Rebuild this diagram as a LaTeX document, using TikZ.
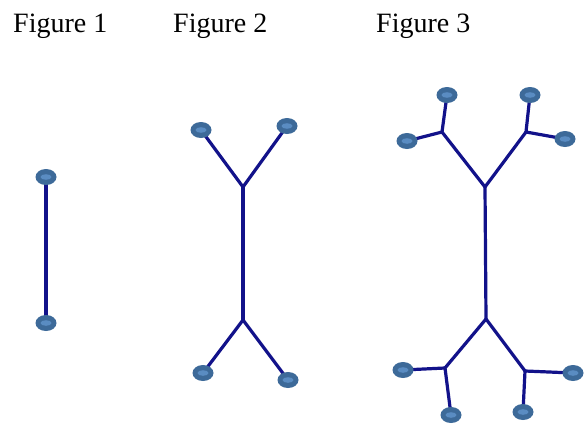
\documentclass[tikz,border=0pt]{standalone}
\usepackage{fontspec}
\setmainfont{Liberation Serif}
\usetikzlibrary{shapes.geometric,backgrounds}
\begin{document}
\begin{tikzpicture}[x=1pt,y=-1pt,
  edge/.style={draw=lineblue,line width=3.2pt,line cap=round,line join=round},
  leaf/.style={ellipse,fill=nodeblue,minimum width=21pt,minimum height=16pt,inner sep=0pt,
    path picture={\fill[nodelight] (path picture bounding box.center) ellipse (5.5pt and 2.8pt);}},
  junc/.style={coordinate},
  title/.style={anchor=base west,font=\fontsize{28}{32}\selectfont,inner sep=0pt}]
\definecolor{lineblue}{HTML}{12128A}
\definecolor{nodeblue}{HTML}{3D6A99}
\definecolor{nodelight}{HTML}{5A8CC2}
\path[use as bounding box] (0,0) rectangle (586,423);
\node[title] (t1) at (13,32) {Figure 1};
\node[title] (t2) at (173,32) {Figure 2};
\node[title] (t3) at (376,32) {Figure 3};
% Figure 1
\node[leaf] (a1) at (46,177) {};
\node[leaf] (a2) at (46,323) {};
% Figure 2
\node[leaf] (b1) at (201,130) {};
\node[leaf] (b2) at (287,126) {};
\node[junc] (bj1) at (243,187) {};
\node[junc] (bj2) at (243,320) {};
\node[leaf] (b3) at (203,373) {};
\node[leaf] (b4) at (288,380) {};
% Figure 3
\node[junc] (cj1) at (485,187) {};
\node[junc] (cj2) at (486,319) {};
\node[junc] (cl1) at (442,132) {};
\node[junc] (cr1) at (526,132) {};
\node[junc] (cl2) at (445,368) {};
\node[junc] (cr2) at (525,371) {};
\node[leaf] (c1) at (447,95) {};
\node[leaf] (c2) at (407,141) {};
\node[leaf] (c3) at (530,95) {};
\node[leaf] (c4) at (565,139) {};
\node[leaf] (c5) at (403,370) {};
\node[leaf] (c6) at (451,415) {};
\node[leaf] (c7) at (573,373) {};
\node[leaf] (c8) at (523,412) {};
\begin{scope}[on background layer]
\path[edge] (a1.center) -- (a2.center);
\path[edge] (b1.center) -- (bj1) -- (b2.center);
\path[edge] (bj1) -- (bj2);
\path[edge] (b3.center) -- (bj2) -- (b4.center);
\path[edge] (cl1) -- (cj1) -- (cr1);
\path[edge] (cj1) -- (cj2);
\path[edge] (cl2) -- (cj2) -- (cr2);
\path[edge] (c1.center) -- (cl1) -- (c2.center);
\path[edge] (c3.center) -- (cr1) -- (c4.center);
\path[edge] (c5.center) -- (cl2) -- (c6.center);
\path[edge] (c7.center) -- (cr2) -- (c8.center);
\end{scope}
\end{tikzpicture}
\end{document}
